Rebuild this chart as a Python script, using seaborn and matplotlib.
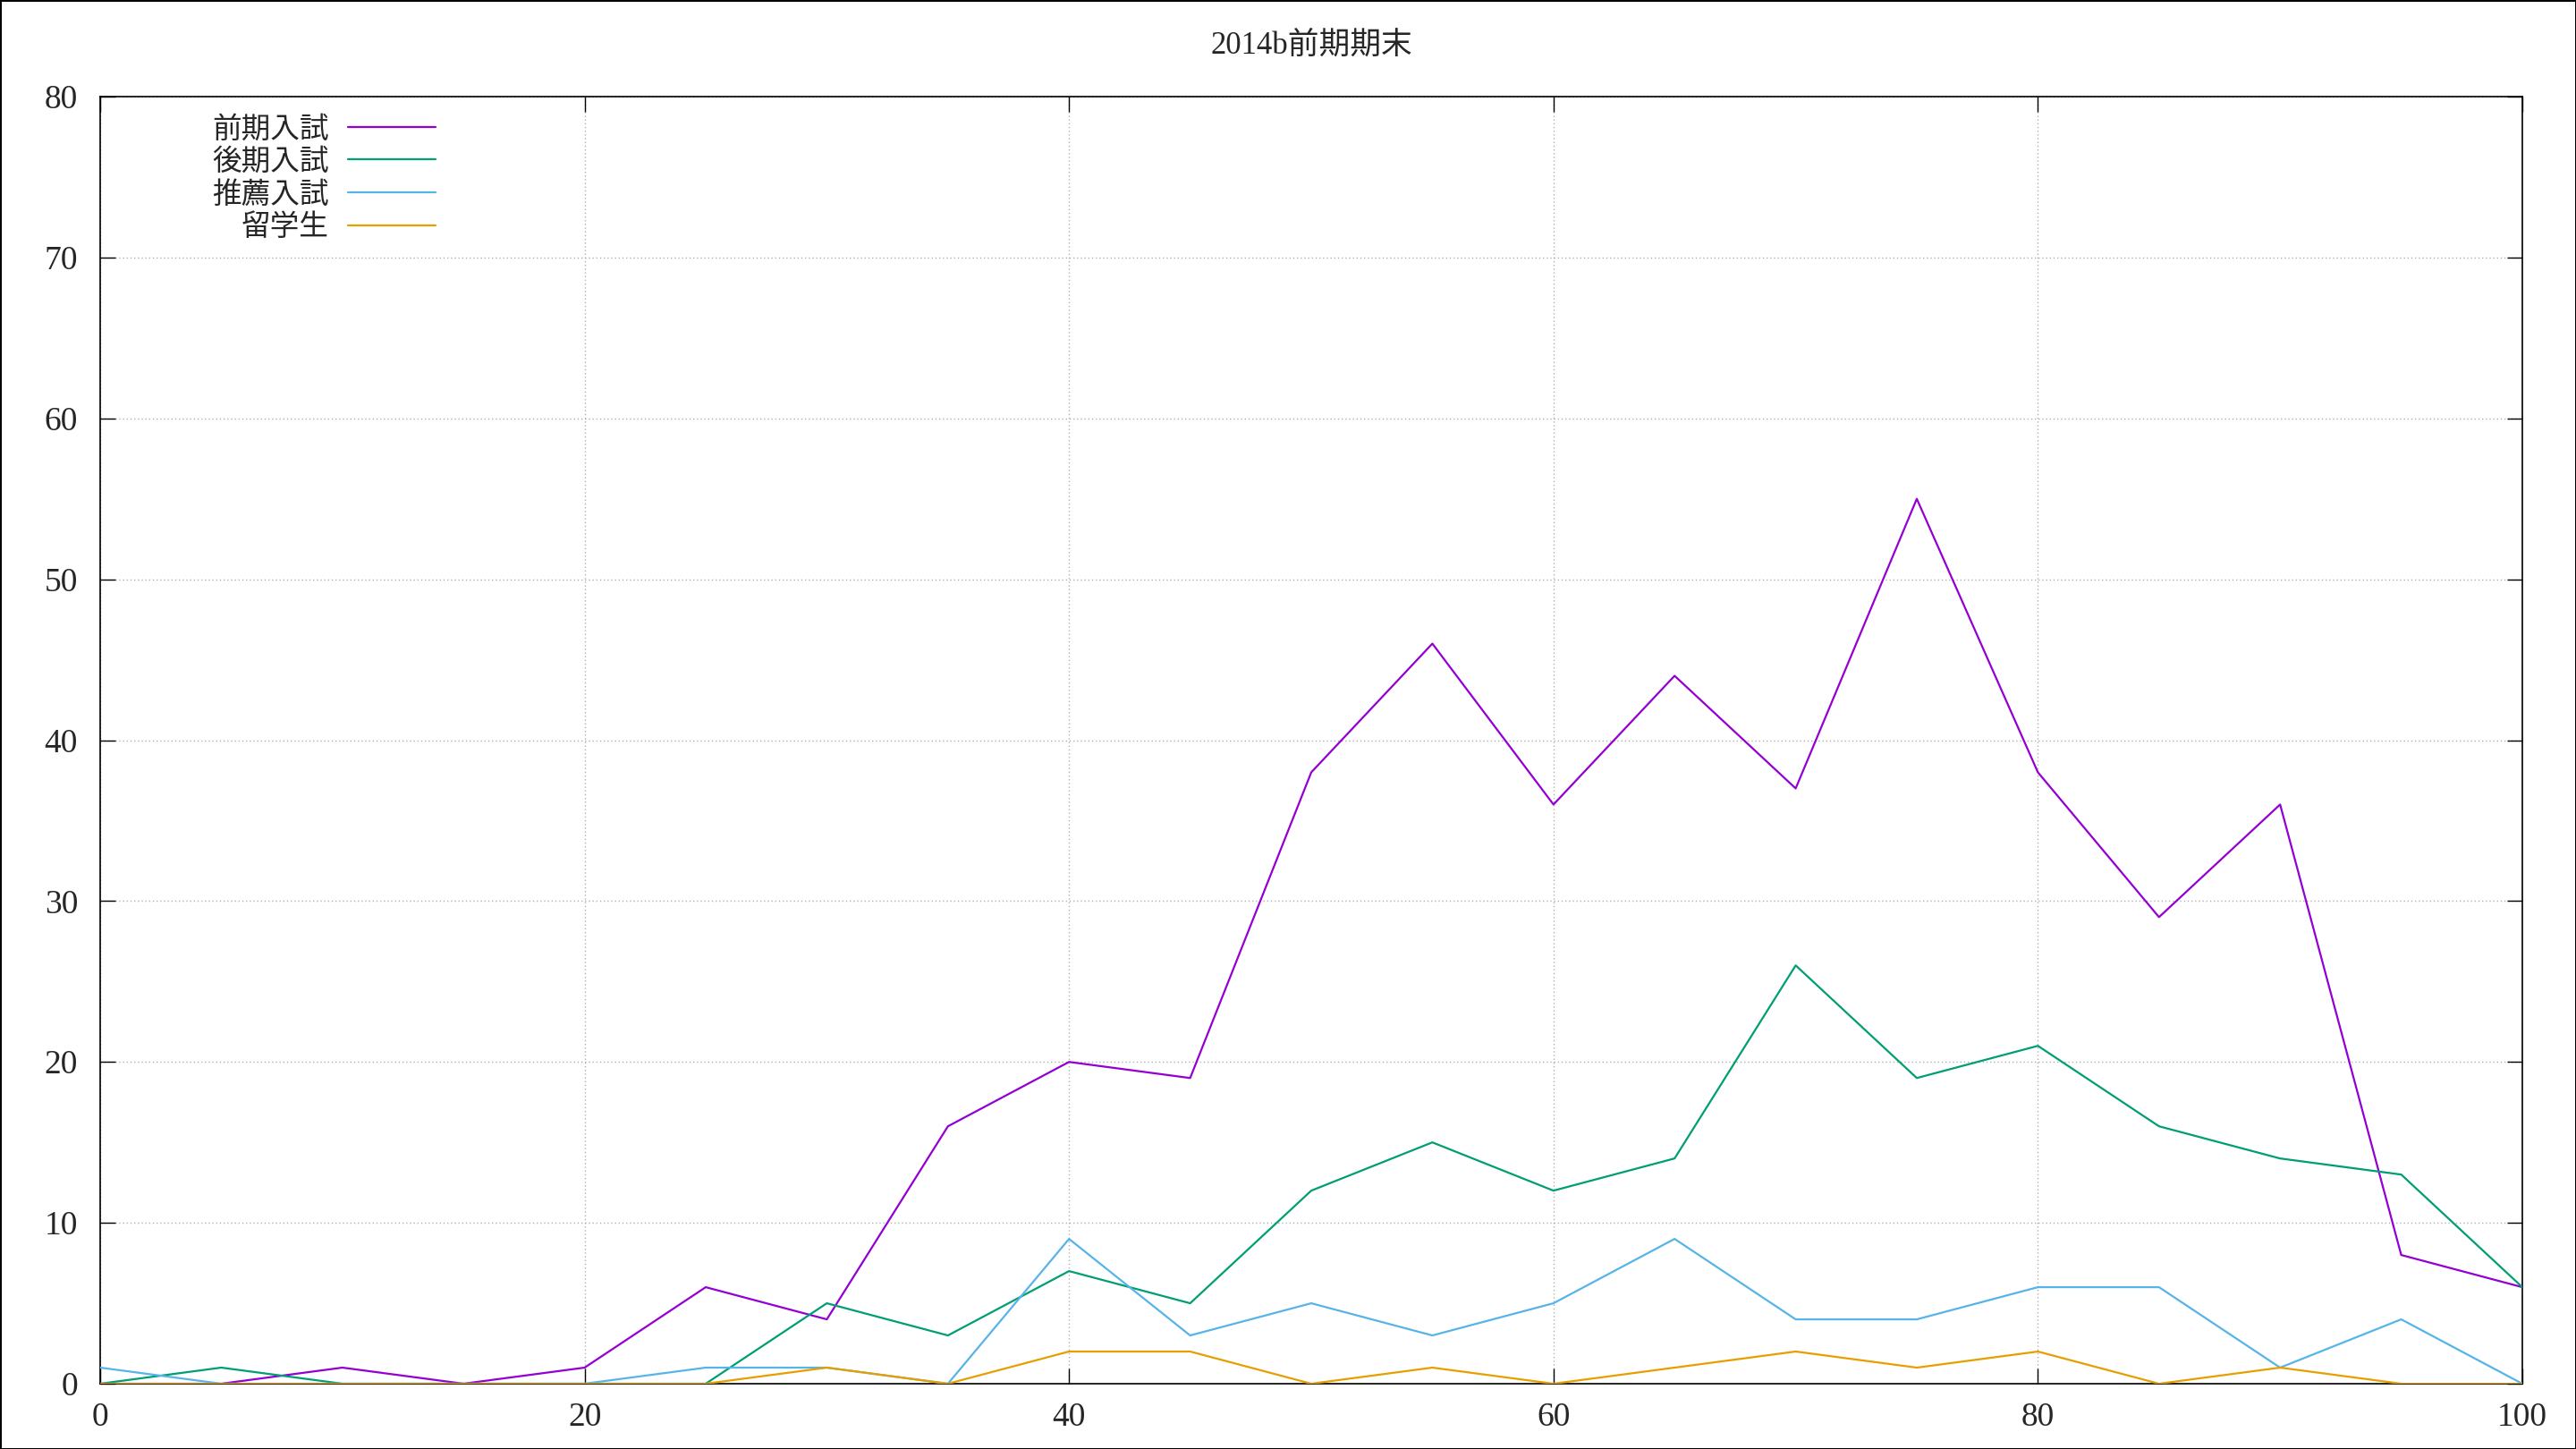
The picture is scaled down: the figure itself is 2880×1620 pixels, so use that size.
import numpy as np
import pandas as pd
import matplotlib
matplotlib.use("Agg")
import matplotlib.pyplot as plt
import seaborn as sns

# data (score bins 0..100 step 5)
scores = [0, 5, 10, 15, 20, 25, 30, 35, 40, 45, 50, 55, 60, 65, 70, 75, 80, 85, 90, 95, 100]
zenki = [0, 0, 1, 0, 1, 6, 4, 16, 20, 19, 38, 46, 36, 44, 37, 55, 38, 29, 36, 8, 6]
kouki = [0, 1, 0, 0, 0, 0, 5, 3, 7, 5, 12, 15, 12, 14, 26, 19, 21, 16, 14, 13, 6]
suisen = [1, 0, 0, 0, 0, 1, 1, 0, 9, 3, 5, 3, 5, 9, 4, 4, 6, 6, 1, 4, 0]
ryugaku = [0, 0, 0, 0, 0, 0, 1, 0, 2, 2, 0, 1, 0, 1, 2, 1, 2, 0, 1, 0, 0]

labels = ["前期入試", "後期入試", "推薦入試", "留学生"]
colors = ["#9400D3", "#009E73", "#56B4E9", "#E69F00"]
title = "2014b前期期末"

sns.set_theme(style="ticks")
plt.rcParams["font.family"] = ["Liberation Serif", "Noto Sans CJK JP", "DejaVu Sans"]

fig = plt.figure(figsize=(28.8, 16.2), dpi=100)
fig.patch.set_edgecolor("black")
fig.patch.set_linewidth(2)
ax = fig.add_axes([112 / 2880, 1 - 1547 / 1620, 2708 / 2880, 1439 / 1620])

for i, (lab, vals) in enumerate(zip(labels, [zenki, kouki, suisen, ryugaku])):
    df = pd.DataFrame({"score": scores, "n": vals})
    sns.lineplot(data=df, x="score", y="n", color=colors[i], lw=1.6, label=lab, ax=ax, zorder=3 + i)

ax.set_xlim(0, 100)
ax.set_ylim(0, 80)
ax.set_xticks(np.arange(0, 101, 20))
ax.set_yticks(np.arange(0, 81, 10))
ax.set_xlabel("")
ax.set_ylabel("")
ax.grid(True, color="#b0b0b0", linestyle=(0, (1, 2)), linewidth=1)
ax.tick_params(direction="in", length=12, width=1, top=True, right=True, labelsize=27, color="black")
ax.tick_params(axis="x", pad=15)
ax.tick_params(axis="y", pad=18)
for s in ax.spines.values():
    s.set_color("black")
    s.set_linewidth(1.2)

ax.legend(loc="upper right", bbox_to_anchor=(0.1385, 0.985), frameon=False, markerfirst=False,
          fontsize=23.5, handlelength=3.0, handletextpad=0.65, labelspacing=0.18, borderpad=0,
          borderaxespad=0)

fig.text(1466 / 2880, 1 - 51 / 1620, title, ha="center", va="center", fontsize=25)

fig.savefig("out.png", dpi=100, edgecolor=fig.get_edgecolor())
